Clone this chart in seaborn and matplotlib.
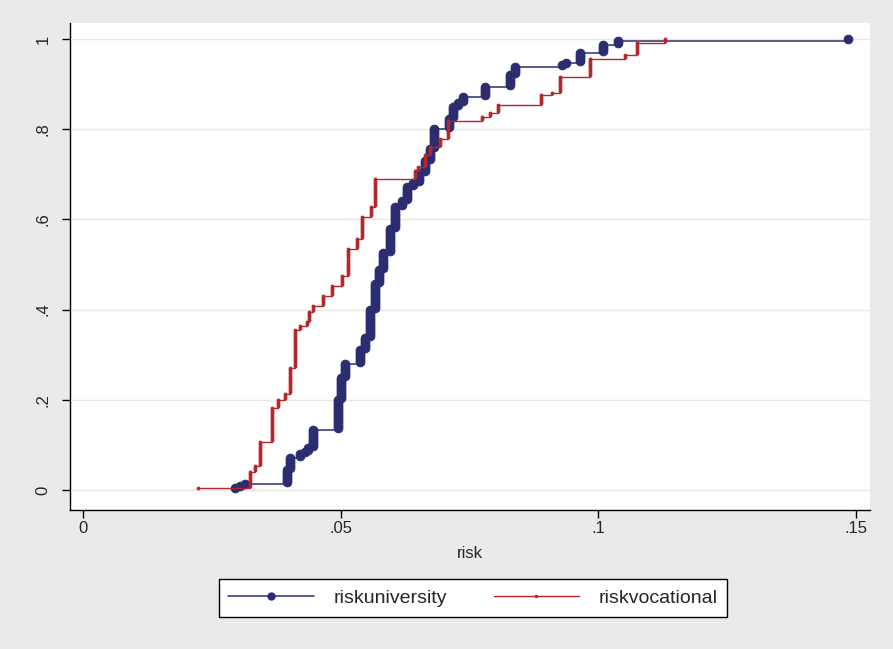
import numpy as np
import pandas as pd
import matplotlib.pyplot as plt
import seaborn as sns
from matplotlib.lines import Line2D

# risk values (sorted) and how many observations sit at each value
uni_risk = [0.0295, 0.0305, 0.0314, 0.0396, 0.0402, 0.0421, 0.0431, 0.0437, 0.0446,
            0.0495, 0.0501, 0.0508, 0.0537, 0.0547, 0.0557, 0.0567, 0.0574, 0.0582,
            0.0596, 0.0605, 0.0619, 0.0629, 0.0640, 0.0652, 0.0664, 0.0673, 0.0681,
            0.0710, 0.0718, 0.0728, 0.0737, 0.0780, 0.0828, 0.0838, 0.0929, 0.0937,
            0.0964, 0.1009, 0.1038, 0.1484]
uni_count = [1, 1, 1, 7, 6, 2, 1, 2, 9,
             15, 11, 7, 7, 6, 14, 13, 7, 8,
             12, 11, 3, 7, 2, 5, 6, 6, 10,
             5, 6, 2, 3, 5, 6, 4, 1, 1,
             5, 4, 2, 1]

voc_risk = [0.0223, 0.0324, 0.0334, 0.0343, 0.0367, 0.0378, 0.0392, 0.0402, 0.0411,
            0.0421, 0.0435, 0.0438, 0.0446, 0.0466, 0.0483, 0.0503, 0.0514, 0.0532,
            0.0541, 0.0559, 0.0567, 0.0644, 0.0650, 0.0664, 0.0673, 0.0693, 0.0708,
            0.0774, 0.0790, 0.0805, 0.0889, 0.0910, 0.0925, 0.0984, 0.1052, 0.1075,
            0.1129]
voc_count = [1, 8, 3, 12, 17, 4, 3, 13, 19,
             2, 2, 5, 3, 5, 5, 5, 13, 5,
             11, 5, 14, 4, 2, 6, 4, 4, 9,
             2, 2, 4, 5, 1, 8, 9, 2, 6,
             2]

x_ticks = [0, 0.05, 0.1, 0.15]
x_labels = ['0', '.05', '.1', '.15']
y_ticks = [0, 0.2, 0.4, 0.6, 0.8, 1]
y_labels = ['0', '.2', '.4', '.6', '.8', '1']


def cumul(risk, count):
    x = np.repeat(risk, count)
    f = np.arange(1, len(x) + 1) / len(x)
    return pd.DataFrame({'risk': x, 'cdf': f})


uni = cumul(uni_risk, uni_count)
voc = cumul(voc_risk, voc_count)

sns.set_style('ticks')
plt.rcParams['font.family'] = ['Liberation Sans', 'DejaVu Sans']

blue = '#2b2d70'
red = '#b3262c'

fig = plt.figure(figsize=(8.93, 6.49), dpi=100, facecolor='#eaeaea')
ax = fig.add_axes([70 / 893, 1 - 510 / 649, 800 / 893, 487 / 649])
ax.set_facecolor('white')
ax.grid(axis='y', color='#e6e6e6', lw=1)
ax.set_axisbelow(True)

sns.lineplot(data=uni, x='risk', y='cdf', estimator=None, sort=False,
             drawstyle='steps-post', color=blue, lw=1.1, marker='o',
             markersize=6.2, markeredgecolor=blue, ax=ax)
sns.lineplot(data=voc, x='risk', y='cdf', estimator=None, sort=False,
             drawstyle='steps-post', color=red, lw=1.0, marker='o',
             markersize=2.0, markeredgecolor=red, ax=ax)

ax.set_xlim(-0.00252, 0.1527)
ax.set_ylim(-0.0443, 1.0355)
ax.set_xticks(x_ticks)
ax.set_xticklabels(x_labels, fontsize=12)
ax.set_yticks(y_ticks)
ax.set_yticklabels(y_labels, fontsize=12, rotation=90, va='center')
ax.tick_params(axis='both', direction='out', length=6, width=1, color='black')
ax.tick_params(axis='x', pad=2)
ax.tick_params(axis='y', pad=8)
ax.set_xlabel('risk', fontsize=12, labelpad=7)
ax.set_ylabel('')
sns.despine(ax=ax)
for s in ['left', 'bottom']:
    ax.spines[s].set_color('black')
    ax.spines[s].set_linewidth(1)

handles = [Line2D([], [], color=blue, lw=1.1, marker='o', markersize=5, markeredgecolor=blue),
           Line2D([], [], color=red, lw=1.0, marker='o', markersize=1.5, markeredgecolor=red)]
leg = fig.legend(handles, ['riskuniversity', 'riskvocational'], loc='center',
                 bbox_to_anchor=(473 / 893, 1 - 598 / 649), ncol=2, fontsize=14,
                 frameon=True, fancybox=False, edgecolor='black', framealpha=1,
                 handlelength=4.4, handletextpad=1.0, columnspacing=2.4,
                 borderpad=0.5, numpoints=1)
leg.get_frame().set_linewidth(1)

fig.savefig('out.png', dpi=100, facecolor=fig.get_facecolor())
